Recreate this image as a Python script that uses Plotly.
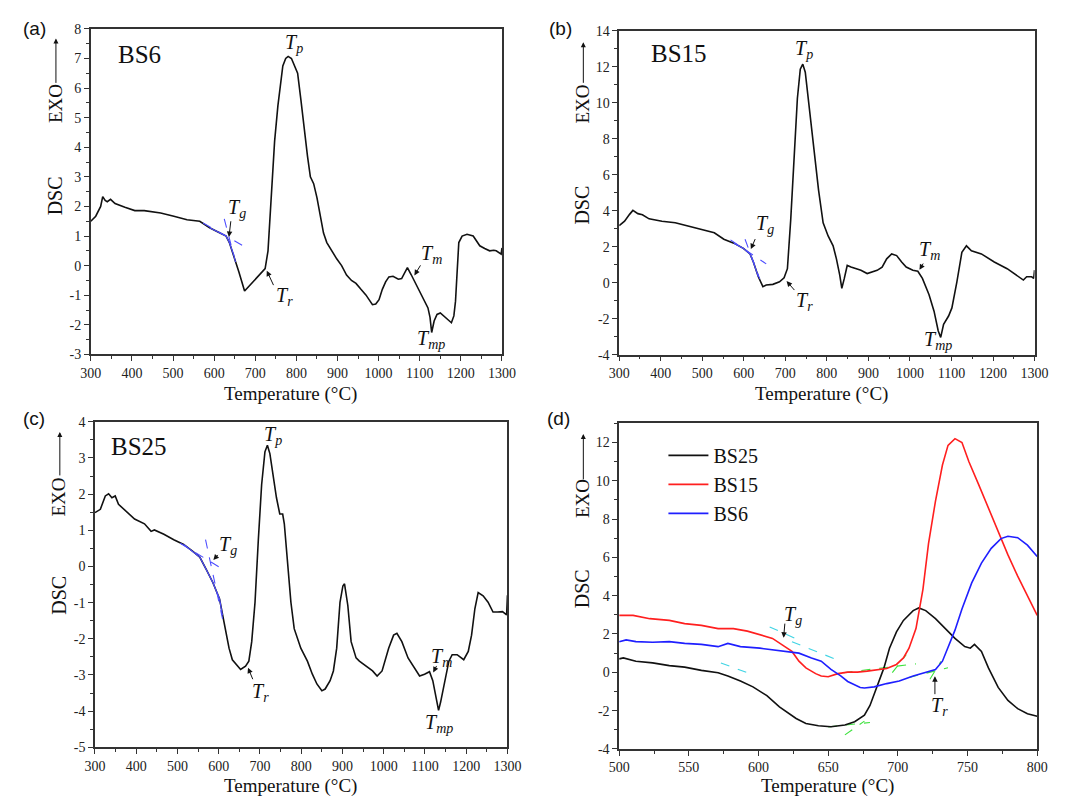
import numpy as np
import plotly.graph_objects as go

W, H = 1072, 805
SERIF = "Times New Roman"
SANS = "Arial"
AXC = "#333333"

# ---------------- (a) BS6, full scan ----------------
bs6_t = [300, 312, 324, 329, 335, 340, 348, 359, 383, 407, 430, 446, 470, 502, 534, 565,
         589, 613, 629, 637, 648, 660, 674, 690, 710, 724, 731, 739, 747, 755, 762, 767,
         774, 780, 788, 796, 803, 811, 819, 827, 834, 842, 850, 858, 866, 874, 886, 898,
         910, 922, 934, 945, 957, 969, 985, 993, 1001, 1009, 1017, 1025, 1035, 1048, 1056,
         1063, 1070, 1079, 1088, 1096, 1104, 1112, 1120, 1125, 1129, 1135, 1142, 1150, 1158,
         1167, 1177, 1183, 1187, 1191, 1195, 1203, 1215, 1230, 1238, 1246, 1258, 1270, 1280,
         1286, 1298, 1300]
bs6_v = [1.50, 1.67, 2.00, 2.33, 2.20, 2.16, 2.24, 2.10, 1.97, 1.86, 1.86, 1.83, 1.78, 1.67, 1.55, 1.50,
         1.28, 1.11, 1.00, 0.78, 0.34, -0.21, -0.86, -0.62, -0.32, -0.10, 0.50, 2.33, 4.20, 5.40, 6.30, 6.75,
         7.00, 7.07, 7.00, 6.70, 6.50, 5.60, 4.54, 3.70, 3.00, 2.77, 2.30, 1.67, 1.10, 0.78, 0.50, 0.23,
         0.00, -0.32, -0.50, -0.60, -0.80, -0.99, -1.32, -1.30, -1.15, -0.80, -0.55, -0.38, -0.36, -0.46, -0.44,
         -0.25, -0.07, -0.30, -0.55, -0.78, -0.99, -1.20, -1.43, -1.75, -2.26, -1.87, -1.65, -1.60, -1.70,
         -1.82, -1.93, -1.70, -1.20, -0.20, 0.78, 1.00, 1.06, 1.00, 0.85, 0.67, 0.58, 0.50, 0.52,
         0.50, 0.39, 0.60]

# ---------------- (b) BS15, full scan ----------------
bs15_t = [300, 313, 325, 333, 345, 356, 372, 403, 435, 466, 498, 529, 552, 576, 599, 615,
          623, 635, 646, 654, 670, 686, 697, 705, 713, 721, 729, 736, 742, 748, 756, 768,
          780, 791, 803, 815, 823, 831, 836, 842, 849, 858, 882, 897, 921, 933, 944, 956,
          968, 980, 991, 1007, 1019, 1030, 1046, 1058, 1068, 1074, 1081, 1093, 1101, 1113,
          1125, 1136, 1148, 1172, 1203, 1234, 1258, 1273, 1281, 1293, 1298, 1300]
bs15_v = [3.18, 3.42, 3.80, 4.02, 3.84, 3.78, 3.55, 3.42, 3.33, 3.15, 2.96, 2.78, 2.42, 2.20, 1.91, 1.60,
          1.15, 0.33, -0.22, -0.13, -0.09, 0.05, 0.27, 0.78, 3.51, 7.15, 10.24, 11.87, 12.15, 11.70, 10.05, 7.33,
          5.15, 3.33, 2.60, 2.05, 1.33, 0.42, -0.31, 0.24, 0.96, 0.87, 0.69, 0.51, 0.69, 0.87, 1.33, 1.60,
          1.51, 1.15, 0.87, 0.69, 0.64, 0.24, -0.67, -1.58, -2.67, -3.04, -2.31, -1.85, -1.40, 0.05,
          1.69, 2.05, 1.78, 1.60, 1.15, 0.78, 0.42, 0.15, 0.33, 0.33, 0.24, 0.70]

# ---------------- (c) BS25, full scan ----------------
bs25_t = [300, 313, 325, 333, 341, 349, 357, 373, 396, 420, 436, 444, 467, 491, 515, 538,
          554, 570, 586, 602, 609, 617, 625, 633, 645, 653, 665, 673, 680, 688, 696, 704,
          712, 718, 724, 732, 740, 748, 755, 759, 767, 775, 783, 799, 815, 827, 838, 850,
          858, 870, 878, 886, 894, 901, 905, 913, 921, 933, 941, 957, 973, 984, 996, 1012,
          1024, 1032, 1044, 1059, 1075, 1087, 1099, 1111, 1119, 1126, 1133, 1138, 1150, 1158,
          1166, 1178, 1194, 1205, 1213, 1221, 1229, 1241, 1253, 1265, 1276, 1288, 1298, 1300]
bs25_v = [1.49, 1.58, 1.95, 2.01, 1.90, 1.95, 1.72, 1.54, 1.31, 1.18, 0.97, 1.01, 0.89, 0.74, 0.61, 0.41,
          0.26, -0.09, -0.45, -0.90, -1.35, -1.81, -2.26, -2.58, -2.76, -2.85, -2.76, -2.62, -2.08, -0.99, 0.73, 2.26,
          3.17, 3.35, 3.12, 2.53, 1.90, 1.45, 1.45, 1.18, 0.09, -0.99, -1.72, -2.26, -2.62, -2.98, -3.25, -3.44,
          -3.39, -3.16, -2.89, -2.26, -0.99, -0.54, -0.48, -1.08, -2.08, -2.53, -2.62, -2.76, -2.89, -3.03, -2.89, -2.26,
          -1.90, -1.85, -2.08, -2.53, -2.80, -3.03, -2.98, -2.91, -3.16, -3.62, -3.98, -3.75, -3.07, -2.62,
          -2.44, -2.44, -2.58, -2.35, -1.90, -1.17, -0.72, -0.81, -0.99, -1.26, -1.26, -1.25, -1.34, -0.80]

# ---------------- (d) 500-800 °C comparison ----------------
d25_t = [500, 503, 512, 524, 536, 547, 559, 571, 578, 587, 596, 606, 615, 620, 627, 634,
         643, 652, 662, 669, 676, 680, 685, 690, 694, 699, 704, 711, 715, 720, 727, 734,
         741, 748, 752, 755, 760, 765, 772, 779, 786, 793, 800]
d25_v = [0.70, 0.75, 0.58, 0.49, 0.35, 0.27, 0.10, -0.02, -0.19, -0.45, -0.76, -1.22, -1.81, -2.07, -2.41, -2.67,
         -2.79, -2.84, -2.75, -2.58, -2.24, -1.73, -0.79, 0.23, 1.26, 2.11, 2.71, 3.22, 3.36, 3.22, 2.80, 2.28,
         1.77, 1.34, 1.26, 1.46, 1.09, 0.23, -0.79, -1.47, -1.90, -2.16, -2.29]
d15_t = [500, 510, 522, 536, 547, 559, 571, 582, 592, 601, 610, 617, 624, 629, 634, 641,
         645, 650, 657, 664, 671, 678, 685, 692, 699, 704, 708, 713, 718, 722, 727, 732,
         736, 741, 746, 751, 758, 765, 772, 779, 786, 793, 800]
d15_v = [2.97, 2.97, 2.80, 2.71, 2.54, 2.45, 2.28, 2.28, 2.15, 1.98, 1.77, 1.43, 1.09, 0.58, 0.23, -0.07,
         -0.19, -0.23, -0.07, 0.01, 0.01, 0.06, 0.15, 0.20, 0.41, 0.75, 1.26, 2.28, 4.33, 6.72, 8.94, 10.82,
         11.85, 12.20, 12.00, 10.99, 9.80, 8.60, 7.32, 6.13, 5.02, 4.00, 2.97]
d6_t = [500, 505, 512, 524, 536, 547, 559, 571, 578, 587, 601, 610, 620, 629, 638, 645,
        652, 659, 664, 673, 676, 683, 692, 701, 711, 720, 727, 732, 736, 741, 746, 753,
        760, 767, 774, 779, 786, 793, 800]
d6_v = [1.60, 1.69, 1.60, 1.57, 1.60, 1.51, 1.46, 1.34, 1.51, 1.34, 1.26, 1.17, 1.09, 1.00, 0.75, 0.58,
        0.15, -0.19, -0.48, -0.79, -0.82, -0.76, -0.59, -0.45, -0.19, -0.02, 0.15, 0.58, 1.26, 2.20, 3.31, 4.67,
        5.70, 6.47, 6.98, 7.10, 7.03, 6.64, 6.04]

# construction (tangent) lines: ((T0, v0), (T1, v1))
tangents_a = [((573, 1.44), (668, 0.69)), ((624.6, 1.58), (652, 0.12))]
tangents_b = [((568, 2.38), (654, 1.05)), ((603, 2.42), (638.6, 0.20))]
tangents_c = [((506.8, 0.64), (613, -0.10)), ((568, 0.74), (611, -1.54))]
tangents_d_cyan = [((608, 2.37), (627, 1.75)), ((624, 1.60), (656, 0.66)),
                   ((573, 0.49), (595, -0.10))]
tangents_d_green = [((661, -0.02), (713, 0.44)), ((696, -0.02), (706, 0.92)),
                    ((708, -0.27), (736, 0.24)), ((723, -0.36), (731, 0.58)),
                    ((650, -2.85), (680, -2.62)), ((662, -3.27), (676, -2.55))]

# tick labels
x_full_ticks = list(range(300, 1301, 100))
x_zoom_ticks = list(range(500, 801, 50))
y_a_ticks = list(range(-3, 9))
y_b_ticks = list(range(-4, 15, 2))
y_c_ticks = list(range(-5, 5))
y_d_ticks = list(range(-4, 13, 2))


def lbl(v):
    return str(v)  # plain hyphen for negatives


def px(x):
    return x / W


def py(y):
    return 1 - y / H


fig = go.Figure()


def curve(t, v, xa, ya, color="#111111", width=1.6, name=None, legend=False):
    fig.add_trace(go.Scatter(x=t, y=v, mode="lines", xaxis=xa, yaxis=ya,
                             line=dict(color=color, width=width),
                             name=name, showlegend=legend, hoverinfo="skip"))


def overlay(t, v, lo, hi, xa, ya, color):
    t = np.asarray(t, float)
    v = np.asarray(v, float)
    m = (t >= lo) & (t <= hi)
    curve(t[m], v[m], xa, ya, color=color, width=1.2)


def tangent_lines(segs, xa, ya, color):
    for (a, b) in segs:
        fig.add_trace(go.Scatter(x=[a[0], b[0]], y=[a[1], b[1]], mode="lines",
                                 xaxis=xa, yaxis=ya, showlegend=False, hoverinfo="skip",
                                 line=dict(color=color, width=1.1, dash="dash")))


BLUE_T = "#4d4dff"
curve(bs6_t, bs6_v, "x", "y")
overlay(bs6_t, bs6_v, 575, 655, "x", "y", BLUE_T)
tangent_lines(tangents_a, "x", "y", BLUE_T)

curve(bs15_t, bs15_v, "x2", "y2")
overlay(bs15_t, bs15_v, 568, 640, "x2", "y2", BLUE_T)
tangent_lines(tangents_b, "x2", "y2", BLUE_T)

curve(bs25_t, bs25_v, "x3", "y3")
overlay(bs25_t, bs25_v, 510, 612, "x3", "y3", BLUE_T)
tangent_lines(tangents_c, "x3", "y3", BLUE_T)

tangent_lines(tangents_d_cyan, "x4", "y4", "#3fd4e4")
tangent_lines(tangents_d_green, "x4", "y4", "#3ee23e")
curve(d25_t, d25_v, "x4", "y4", color="#111111", name="BS25", legend=True)
curve(d15_t, d15_v, "x4", "y4", color="#ff1f1f", name="BS15", legend=True)
curve(d6_t, d6_v, "x4", "y4", color="#1f1fff", name="BS6", legend=True)


def axis(domain, rng, ticks, minor_dtick, anchor):
    return dict(domain=domain, range=rng, anchor=anchor,
                tickmode="array", tickvals=ticks, ticktext=[lbl(t) for t in ticks],
                showline=True, linecolor=AXC, linewidth=1.5, mirror=True,
                ticks="outside", ticklen=5, tickwidth=1.2, tickcolor=AXC,
                minor=dict(tickmode="linear", tick0=rng[0], dtick=minor_dtick,
                           ticks="outside", ticklen=3, tickwidth=1, tickcolor=AXC),
                showgrid=False, zeroline=False, fixedrange=True,
                tickfont=dict(family=SERIF, size=14, color="#222222"))


layout = dict(
    width=W, height=H, margin=dict(l=0, r=0, t=0, b=0),
    paper_bgcolor="white", plot_bgcolor="white",
    font=dict(family=SERIF, size=14, color="#222222"),
    xaxis=axis([px(81.7), px(502.7)], [300, 1300], x_full_ticks, 50, "y"),
    yaxis=axis([py(354), py(22.3)], [-3, 8], y_a_ticks, 0.5, "x"),
    xaxis2=axis([px(622.7), px(1048)], [300, 1300], x_full_ticks, 50, "y2"),
    yaxis2=axis([py(354.3), py(24.3)], [-4, 14], y_b_ticks, 1, "x2"),
    xaxis3=axis([px(86), px(508.3)], [300, 1300], x_full_ticks, 50, "y3"),
    yaxis3=axis([py(754.3), py(422.7)], [-5, 4], y_c_ticks, 0.5, "x3"),
    xaxis4=axis([px(622.7), px(1050.7)], [500, 800], x_zoom_ticks, 25, "y4"),
    yaxis4=axis([py(756), py(424.2)], [-4, 13], y_d_ticks, 1, "x4"),
    legend=dict(x=px(668), y=py(437), xanchor="left", yanchor="top",
                bgcolor="rgba(0,0,0,0)", font=dict(family=SERIF, size=20, color="#111"),
                tracegroupgap=0, itemwidth=40),
    showlegend=True,
)
fig.update_layout(**layout)

ann = []


def text(x, y, s, size=20, xref="paper", yref="paper", family=SERIF, angle=0, xanchor="center"):
    ann.append(dict(x=x, y=y, xref=xref, yref=yref, text=s, showarrow=False,
                    textangle=angle, xanchor=xanchor, yanchor="middle",
                    font=dict(family=family, size=size, color="#111111")))


def arrow(x0, y0, x1, y1, xref, yref):
    ann.append(dict(x=x1, y=y1, ax=x0, ay=y0, xref=xref, yref=yref, axref=xref, ayref=yref,
                    text="", showarrow=True, arrowhead=2, arrowsize=1.1, arrowwidth=1,
                    arrowcolor="#111111"))


def paper_arrow(xp, y_tail, y_tip):
    ann.append(dict(x=px(xp), y=py(y_tip), xref="paper", yref="paper",
                    ax=0, ay=y_tail - y_tip, text="", showarrow=True, arrowhead=2,
                    arrowsize=1.0, arrowwidth=1, arrowcolor="#111111"))


def T(sub):
    return "<i>T</i><sub><i>%s</i></sub>" % sub


# panel letters
for s, x, y in [("(a)", 24, 22), ("(b)", 563, 22), ("(c)", 24, 419), ("(d)", 561, 419)]:
    text(px(x), py(y), s, size=19, family=SANS)

# y-axis titles: "DSC" plus "EXO" with an upward arrow
for xc, dsc_y, exo_y, a_tail, a_tip in [(45, 192, 98, 78, 32), (585, 202, 99, 78, 36),
                                         (49, 599, 499, 478, 433), (585, 593, 501, 482, 435)]:
    text(px(xc), py(dsc_y), "DSC", size=20, angle=-90)
    text(px(xc), py(exo_y), "EXO", size=19, angle=-90)
    paper_arrow(xc + 1, a_tail, a_tip)

# x-axis titles
for xc, yc in [(286, 394), (830, 394), (286, 794), (836, 794)]:
    text(px(xc), py(yc), "Temperature (°C)", size=19)

# sample names
text(px(107), py(48), "BS6", size=25, xanchor="left")
text(px(653), py(47), "BS15", size=25, xanchor="left")
text(px(100), py(448), "BS25", size=25, xanchor="left")

# characteristic temperatures, panel (a)
text(793, 7.52, T("p"), xref="x", yref="y")
text(656, 1.92, T("g"), xref="x", yref="y")
arrow(641, 1.55, 636, 0.97, "x", "y")
text(770, -1.04, T("r"), xref="x", yref="y")
arrow(746, -0.71, 728, -0.17, "x", "y")
text(1128, 0.36, T("m"), xref="x", yref="y")
arrow(1104, 0.06, 1087, -0.33, "x", "y")
text(1128, -2.48, T("mp"), xref="x", yref="y")

# panel (b)
text(744, 12.96, T("p"), xref="x2", yref="y2")
text(650, 3.24, T("g"), xref="x2", yref="y2")
arrow(629, 2.51, 617, 1.87, "x2", "y2")
text(745, -1.04, T("r"), xref="x2", yref="y2")
arrow(725, -0.49, 703, 0.09, "x2", "y2")
text(1047, 1.78, T("m"), xref="x2", yref="y2")
arrow(1034, 1.15, 1023, 0.72, "x2", "y2")
text(1067, -3.22, T("mp"), xref="x2", yref="y2")

# panel (c)
text(732, 3.62, T("p"), xref="x3", yref="y3")
text(622, 0.59, T("g"), xref="x3", yref="y3")
arrow(601, 0.36, 587, 0.18, "x3", "y3")
text(701, -3.48, T("r"), xref="x3", yref="y3")
arrow(684, -3.16, 671, -2.80, "x3", "y3")
text(1139, -2.53, T("m"), xref="x3", yref="y3")
arrow(1130, -2.71, 1120, -2.93, "x3", "y3")
text(1135, -4.34, T("mp"), xref="x3", yref="y3")

# panel (d)
text(625, 2.95, T("g"), xref="x4", yref="y4")
arrow(619, 2.62, 618, 1.80, "x4", "y4")
text(730, -1.78, T("r"), xref="x4", yref="y4")
arrow(726.6, -1.22, 726.6, -0.20, "x4", "y4")

fig.update_layout(annotations=ann)
fig.write_html("out.html")
